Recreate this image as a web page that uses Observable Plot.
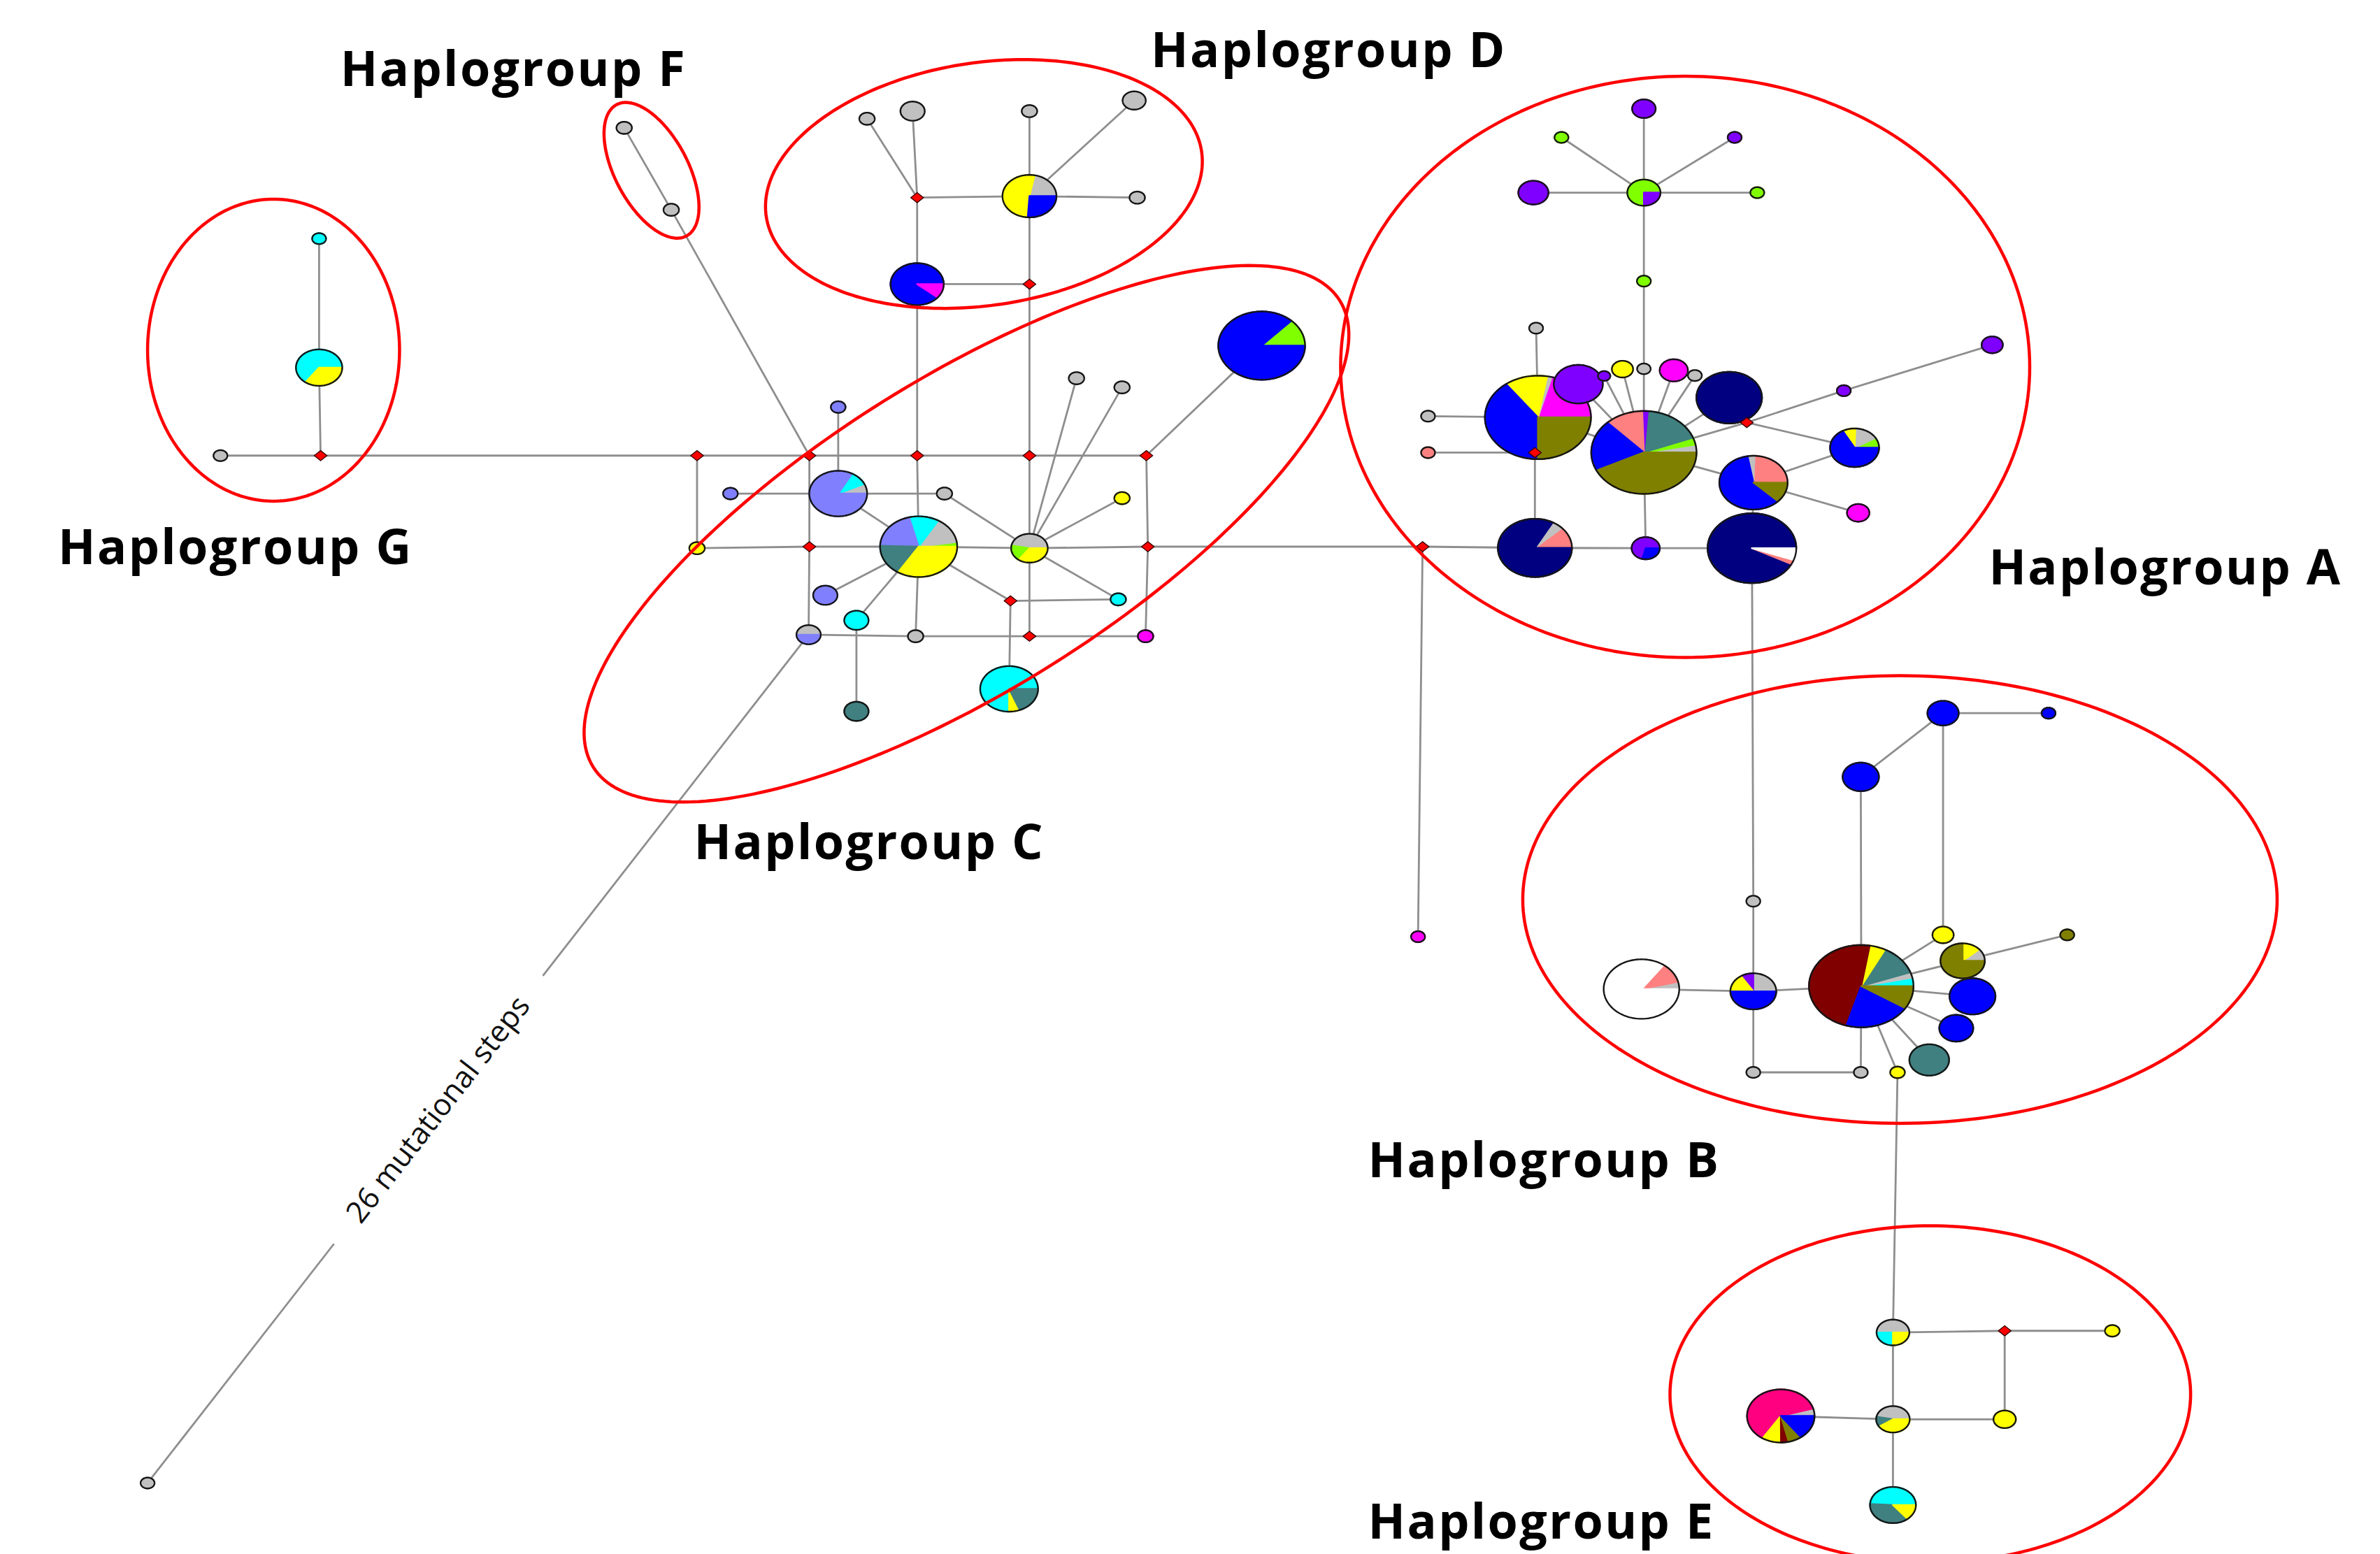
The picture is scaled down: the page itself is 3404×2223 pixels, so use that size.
<!DOCTYPE html>
<html>
<head>
<meta charset="utf-8">
<script src="https://cdn.jsdelivr.net/npm/d3@7"></script>
<script src="https://cdn.jsdelivr.net/npm/@observablehq/plot@0.6"></script>
<style>
html, body { margin: 0; padding: 0; background: #fff; overflow: hidden; }
svg g[font-weight="bold"] text { letter-spacing: 2.4px; }
</style>
</head>
<body>
<div id="chart"></div>
<script>
// ---------------- DATA (coordinates in the 1568 x 1024 picture frame) ----------------
// haplotype: [id, x, y, size (radius), composition "colour fraction, ..."]
const haplotypes = [
  // Haplogroup G
  ["g1", 210, 157, 3.6, "cyan 1"],
  ["g2", 210, 242, 12, "cyan .65, yellow .35"],
  ["g3", 145, 300, 3.6, "grey 1"],
  // Haplogroup F
  ["f1", 411, 84, 4, "grey 1"],
  ["f2", 442, 138, 4, "grey 1"],
  // Haplogroup D
  ["d1", 571, 78, 4, "grey 1"],
  ["d2", 601, 73, 6.3, "grey 1"],
  ["d3", 678, 73, 4, "grey 1"],
  ["d4", 747, 66, 6, "grey 1"],
  ["d5", 749, 130, 4, "grey 1"],
  ["d6", 678, 129, 14, "grey .22, yellow .52, blue .26"],
  ["d7", 604, 187, 13.8, "blue .89, magenta .11"],
  // Haplogroup C
  ["c1", 552, 268, 3.8, "lavender 1"],
  ["c2", 552, 325, 15, "grey .07, cyan .1, lavender .83"],
  ["c3", 481, 325, 3.8, "lavender 1"],
  ["c4", 622, 325, 4, "grey 1"],
  ["c5", 459, 361, 4, "yellow 1"],
  ["c6", 605, 360, 20, "green .025, grey .14, cyan .125, lavender .205, teal .165, yellow .34"],
  ["c7", 678, 361, 9.5, "grey .47, green .18, yellow .35"],
  ["c8", 709, 249, 4, "grey 1"],
  ["c9", 739, 255, 4, "grey 1"],
  ["c10", 739, 328, 4, "yellow 1"],
  ["c11", 736.5, 394.7, 4, "cyan 1"],
  ["c12", 543.5, 392, 6.3, "lavender 1"],
  ["c13", 564, 408.5, 6.3, "cyan 1"],
  ["c14", 564, 468.5, 6.3, "teal 1"],
  ["c15", 532.5, 418, 6.3, "grey .5, lavender .5"],
  ["c16", 603, 419, 4, "grey 1"],
  ["c17", 754.5, 419, 4, "magenta 1"],
  ["c18", 664.6, 453.7, 15, "cyan .75, yellow .06, teal .19"],
  ["c19", 831, 227.5, 22.5, "green .13, blue .87"],
  ["c20", 97, 977, 3.6, "grey 1"],
  // Haplogroup A
  ["a1", 1082.8, 71.4, 6.1, "purple 1"],
  ["a2", 1028.5, 90.3, 3.6, "green 1"],
  ["a3", 1142.6, 90.3, 3.6, "purple 1"],
  ["a4", 1010, 126.7, 7.8, "purple 1"],
  ["a5", 1082.8, 126.7, 8.6, "green .75, purple .25"],
  ["a6", 1157.5, 126.7, 3.6, "green 1"],
  ["a7", 1082.8, 185, 3.6, "green 1"],
  ["a8", 1011.8, 216, 3.6, "grey 1"],
  ["a9", 1312.3, 227, 5.5, "purple 1"],
  ["a10", 1013, 274.8, 27.5, "magenta .208, grey .014, yellow .131, blue .397, olive .25"],
  ["a11", 1039.6, 252.9, 12.7, "purple 1"],
  ["a12", 1056.6, 247.5, 3.2, "purple 1"],
  ["a13", 1068.7, 243, 5.5, "yellow 1"],
  ["a14", 1082.8, 242.8, 3.5, "grey 1"],
  ["a15", 1102.5, 243.8, 7.3, "magenta 1"],
  ["a16", 1116.4, 247.2, 3.6, "grey 1"],
  ["a17", 1139, 261.8, 17, "navy 1"],
  ["a18", 1082.8, 297.9, 27.3, "grey .03, green .028, teal .18, purple .017, salmon .117, blue .2, olive .428"],
  ["a19", 940.6, 274, 3.6, "grey 1"],
  ["a20", 940.6, 298, 3.6, "salmon 1"],
  ["a21", 1214.5, 257.2, 3.6, "purple 1"],
  ["a22", 1221.6, 294.8, 12.7, "green .085, grey .16, yellow .085, blue .67"],
  ["a23", 1155, 317.8, 17.7, "salmon .245, grey .033, blue .6, olive .122"],
  ["a24", 1224, 337.7, 5.8, "magenta 1"],
  ["a25", 1011, 360.8, 19.2, "salmon .12, grey .05, navy .83"],
  ["a26", 1084, 361, 7.3, "purple .71, blue .29"],
  ["a27", 1154, 361, 23, "navy .925, salmon .02, white .055"],
  ["a28", 934, 617, 3.6, "magenta 1"],
  // Haplogroup B
  ["b1", 1279.9, 469.7, 8.1, "blue 1"],
  ["b2", 1349.4, 469.7, 3.6, "blue 1"],
  ["b3", 1225.7, 511.7, 9.4, "blue 1"],
  ["b4", 1154.9, 593.6, 3.6, "grey 1"],
  ["b5", 1279.9, 615.8, 5.5, "yellow 1"],
  ["b6", 1361.7, 615.8, 3.6, "olive 1"],
  ["b7", 1292.8, 632.9, 11.5, "grey .115, yellow .135, olive .75"],
  ["b8", 1299.3, 656.3, 11.9, "blue 1"],
  ["b9", 1288.6, 677.3, 8.8, "blue 1"],
  ["b10", 1270.8, 698.2, 10.3, "teal 1"],
  ["b11", 1249.9, 706.4, 3.8, "yellow 1"],
  ["b12", 1154.9, 706.4, 3.6, "grey 1"],
  ["b13", 1225.7, 706.4, 3.6, "grey 1"],
  ["b14", 1226, 649.6, 27.1, "cyan .033, grey .022, teal .12, yellow .049, maroon .48, blue .206, olive .09"],
  ["b15", 1081.2, 651.5, 19.6, "grey .04, salmon .11, white .85"],
  ["b16", 1154.9, 653, 11.9, "grey .25, purple .09, yellow .16, blue .5"],
  // Haplogroup E
  ["e1", 1246.9, 877.8, 8.5, "grey .5, cyan .25, yellow .25"],
  ["e2", 1391.4, 876.7, 3.8, "yellow 1"],
  ["e3", 1246.9, 935, 8.7, "grey .47, teal .125, yellow .405"],
  ["e4", 1320.5, 935, 5.8, "yellow 1"],
  ["e5", 1173, 932.8, 17.5, "grey .045, pink .614, yellow .092, maroon .037, olive .065, blue .147"],
  ["e6", 1246.9, 991.5, 11.9, "cyan .49, teal .37, yellow .14"]
];

// median vectors (red): [id, x, y]
const medians = [
  ["mG", 211, 300], ["mD1", 604, 130], ["mD2", 678, 187],
  ["mC1", 459, 300], ["mC2", 533, 300], ["mC3", 604, 300], ["mC4", 678, 300], ["mC5", 755, 300],
  ["mC6", 533, 360], ["mC7", 756, 360], ["mC8", 665.5, 395.7], ["mC9", 678, 419],
  ["mA1", 937, 360], ["mA2", 1011, 298], ["mA3", 1150.6, 278.2], ["mE1", 1320.5, 876.7]
];

// network links
const links = [
  "g1-g2", "g2-mG", "g3-mG", "mG-mC1",
  "f1-f2", "f2-mC2",
  "d1-mD1", "d2-mD1", "mD1-d6", "d3-d6", "d4-d6", "d6-d5", "mD1-d7", "d6-mD2", "d7-mD2", "d7-mC3", "mD2-mC4",
  "mC1-mC2", "mC2-mC3", "mC3-mC4", "mC4-mC5", "mC1-c5", "c5-mC6", "mC6-c6", "mC2-mC6", "mC6-c15",
  "c1-c2", "c3-c2", "c2-c4", "c4-c7", "c2-c6", "c6-c12", "c6-c13", "c13-c14", "c6-mC8", "mC8-c11", "mC8-c18",
  "mC3-c6", "c6-c16", "c6-c7", "c7-mC7", "mC4-c7", "c7-mC9", "c7-c8", "c7-c9", "c7-c10", "c7-c11",
  "c15-c16", "c16-mC9", "mC9-c17", "mC5-mC7", "mC7-c17", "mC5-c19",
  "mC7-mA1", "mA1-a25", "a25-a26", "a26-a27", "mA1-a28", "mA2-a25", "a20-mA2", "mA2-a10", "a19-a10", "a8-a10",
  "a10-a18", "a11-a18", "a12-a18", "a13-a18", "a14-a18", "a15-a18", "a16-a18", "a17-a18", "a18-mA3", "mA3-a21", "a21-a9",
  "mA3-a22", "a18-a23", "a23-a22", "a23-a24", "a23-a27", "a18-a26", "a14-a7", "a7-a5", "a5-a1", "a5-a2", "a5-a3", "a5-a4", "a5-a6",
  "a27-b4", "b4-b16", "b16-b12", "b12-b13", "b13-b14", "b15-b16", "b16-b14", "b14-b3", "b3-b1", "b1-b2", "b1-b5",
  "b14-b5", "b14-b7", "b7-b6", "b14-b8", "b14-b9", "b14-b10", "b14-b11", "b11-e1",
  "e1-mE1", "mE1-e2", "mE1-e4", "e1-e3", "e3-e4", "e3-e5", "e3-e6"
];

// long branch with its label: [from, to, steps, gap start, gap end]
const longBranch = ["c15", "c20", 26, 0.402, 0.718];

// haplogroup outlines: [name, cx, cy, semi-axis a, semi-axis b, rotation deg]
const groupRings = [
  ["G", 180, 230.5, 83, 99.5, 0],
  ["F", 429, 112, 49, 24, 62],
  ["D", 648, 121, 145, 80, -8.5],
  ["C", 636.5, 351.5, 290, 103, -32],
  ["A", 1110, 241.5, 227, 191.5, 0],
  ["B", 1251.5, 592.5, 248.5, 147.5, 0],
  ["E", 1271.5, 918.5, 171.5, 111, 0]
];

// haplogroup labels: [text, left x, middle y]
const groupLabels = [
  ["Haplogroup F", 224, 46],
  ["Haplogroup D", 758, 33.5],
  ["Haplogroup G", 38, 361],
  ["Haplogroup A", 1310, 374.5],
  ["Haplogroup C", 457, 555.5],
  ["Haplogroup B", 901, 765],
  ["Haplogroup E", 901, 1003.5]
];

const COLORS = {
  blue: "#0000FF", yellow: "#FFFF00", cyan: "#00FFFF", lavender: "#8080FF", teal: "#408080",
  grey: "#C0C0C0", green: "#80FF00", purple: "#8000FF", magenta: "#FF00FF", navy: "#000080",
  olive: "#808000", salmon: "#FF8080", maroon: "#800000", pink: "#FF0080", white: "#FFFFFF"
};

// ---------------- GEOMETRY ----------------
const W = 3404, H = 2223;
const AR = 1.27; // horizontal stretch of node discs in the picture
const TAU = Math.PI * 2;

const pos = new Map();
haplotypes.forEach(([id, x, y]) => pos.set(id, [x, y]));
medians.forEach(([id, x, y]) => pos.set(id, [x, y]));

const edges = links.map(s => {
  const [a, b] = s.split("-");
  const [x1, y1] = pos.get(a), [x2, y2] = pos.get(b);
  return {x1, y1, x2, y2};
});
// long branch, interrupted by its label
const [lbA, lbB, lbSteps, g0, g1] = longBranch;
const [lx1, ly1] = pos.get(lbA), [lx2, ly2] = pos.get(lbB);
const lerp = t => [lx1 + (lx2 - lx1) * t, ly1 + (ly2 - ly1) * t];
{
  const p0 = lerp(g0), p1 = lerp(g1);
  edges.push({x1: lx1, y1: ly1, x2: p0[0], y2: p0[1]});
  edges.push({x1: p1[0], y1: p1[1], x2: lx2, y2: ly2});
}
const mid = lerp((g0 + g1) / 2);
const branchAngle = Math.atan2(ly1 - ly2, lx1 - lx2) * 180 / Math.PI; // up-right direction
const branchLabel = [{x: mid[0], y: mid[1], text: `${lbSteps} mutational steps`}];

// node shapes: pie slices then outline, big nodes first
const nodes = haplotypes.map(([id, x, y, r, comp]) => ({
  id, x, y, r,
  parts: comp.split(",").map(s => { const [c, f] = s.trim().split(/\s+/); return {color: COLORS[c], f: +f}; })
})).sort((a, b) => b.r - a.r);

const shapes = [];
for (const n of nodes) {
  const rx = n.r * AR, ry = n.r;
  if (n.parts.length === 1) {
    const k = n.id + "-f";
    for (let i = 0; i <= 120; i++) {
      const t = i / 120 * TAU;
      shapes.push({k, x: n.x + rx * Math.cos(t), y: n.y - ry * Math.sin(t), fill: n.parts[0].color, stroke: n.parts[0].color});
    }
  } else {
    const total = d3.sum(n.parts, p => p.f);
    let a0 = 0;
    n.parts.forEach((p, j) => {
      const a1 = a0 + p.f / total * TAU;
      const k = n.id + "-s" + j;
      shapes.push({k, x: n.x, y: n.y, fill: p.color, stroke: p.color});
      const steps = Math.max(2, Math.ceil((a1 - a0) / (TAU / 180)));
      for (let i = 0; i <= steps; i++) {
        const t = a0 + (a1 - a0) * i / steps;
        shapes.push({k, x: n.x + rx * Math.cos(t), y: n.y - ry * Math.sin(t), fill: p.color, stroke: p.color});
      }
      shapes.push({k, x: n.x, y: n.y, fill: p.color, stroke: p.color});
      a0 = a1;
    });
  }
  const k = n.id + "-o";
  for (let i = 0; i <= 120; i++) {
    const t = i / 120 * TAU;
    shapes.push({k, x: n.x + rx * Math.cos(t), y: n.y - ry * Math.sin(t), fill: "none", stroke: "#151515"});
  }
}

// median vectors as small diamonds
const diamonds = [];
medians.forEach(([id, x, y]) => {
  const dx = 4.2, dy = 3.3;
  [[x + dx, y], [x, y - dy], [x - dx, y], [x, y + dy], [x + dx, y]].forEach(([px, py]) => diamonds.push({k: id, x: px, y: py}));
});

// haplogroup rings
const rings = [];
groupRings.forEach(([name, cx, cy, a, b, rot]) => {
  const th = rot * Math.PI / 180;
  for (let i = 0; i <= 240; i++) {
    const p = i / 240 * TAU;
    rings.push({k: name, x: cx + a * Math.cos(p) * Math.cos(th) - b * Math.sin(p) * Math.sin(th),
                         y: cy + a * Math.cos(p) * Math.sin(th) + b * Math.sin(p) * Math.cos(th)});
  }
});

const labels = groupLabels.map(([text, x, y]) => ({text, x, y}));

// ---------------- PLOT ----------------
const chart = Plot.plot({
  width: W,
  height: H,
  margin: 0,
  x: {domain: [0, 1568], range: [0, W], axis: null},
  y: {domain: [0, 1024], range: [0, H], axis: null},
  color: {type: "identity"},
  style: {background: "#fff"},
  marks: [
    Plot.link(edges, {x1: "x1", y1: "y1", x2: "x2", y2: "y2", stroke: "#8e8e8e", strokeWidth: 2.8}),
    Plot.line(shapes, {x: "x", y: "y", z: "k", fill: "fill", stroke: "stroke", strokeWidth: 2.4}),
    Plot.line(diamonds, {x: "x", y: "y", z: "k", fill: "#FF0000", stroke: "#3a0000", strokeWidth: 1.4}),
    Plot.line(rings, {x: "x", y: "y", z: "k", stroke: "#FF0000", strokeWidth: 4.5}),
    Plot.text(branchLabel, {x: "x", y: "y", text: "text", rotate: branchAngle, fontSize: 43, fontFamily: "Open Sans", fill: "#111"}),
    Plot.text(labels, {x: "x", y: "y", text: "text", textAnchor: "start", fontSize: 70, fontWeight: "bold", fontFamily: "Open Sans", fill: "#000"})
  ]
});
document.getElementById("chart").appendChild(chart);
</script>
</body>
</html>
